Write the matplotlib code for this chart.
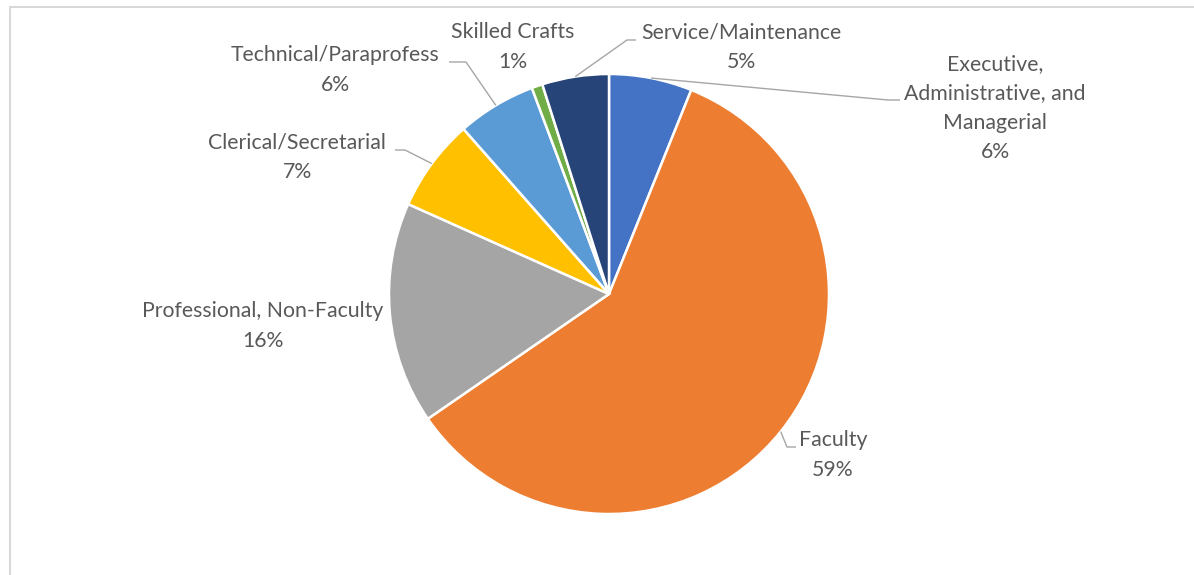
import numpy as np
import matplotlib
matplotlib.use("Agg")
import matplotlib.pyplot as plt
from matplotlib.patches import Rectangle

plt.rcParams["font.family"] = ["Lato", "DejaVu Sans"]

# Staff headcount share by job category
categories = [
    "Executive,\nAdministrative, and\nManagerial",
    "Faculty",
    "Professional, Non-Faculty",
    "Clerical/Secretarial",
    "Technical/Paraprofess",
    "Skilled Crafts",
    "Service/Maintenance",
]
shares = [6.1, 59.3, 16.3, 6.8, 5.8, 0.8, 4.9]
colors = ["#4472C4", "#ED7D31", "#A5A5A5", "#FFC000", "#5B9BD5", "#70AD47", "#264478"]

W, H = 1194, 575
fig = plt.figure(figsize=(W / 100, H / 100), dpi=100)
ax = fig.add_axes([0, 0, 1, 1])

# chart-area border (runs off the right and bottom edges)
fig.patches.append(Rectangle((9.5 / W, -0.05), 1.2, 1 - 7 / H + 0.05,
                             transform=fig.transFigure, fill=False,
                             edgecolor="#D9D9D9", linewidth=1.5))

cx, cy, r = 609, H - 294, 220
wedges, _ = ax.pie(shares, colors=colors, startangle=90, counterclock=False,
                   center=(cx, cy), radius=r, frame=True,
                   wedgeprops=dict(edgecolor="white", linewidth=1.8))
ax.set_xlim(0, W)
ax.set_ylim(0, H)
ax.set_aspect("equal")
ax.axis("off")

# label centres and leader-line elbows, in pixel coords from the top
label_pos = [(995, 108), (833, 455), (263, 326), (297, 157),
             (335, 70), (513, 47), (741, 47)]
elbows = [
    [(888, 100), (900, 100)],
    [(787, 447), (796, 447)],
    None,
    [(405, 150), (395, 150)],
    [(466, 62), (449, 62)],
    None,
    [(627, 40), (636, 40)],
]

for w, name, val, (lx, ly), elb in zip(wedges, categories, shares, label_pos, elbows):
    ax.text(lx, H - ly, f"{name}\n{round(val)}%", ha="center", va="center",
            multialignment="center", fontsize=15.3, color="#595959",
            linespacing=1.6)
    if elb is None:
        continue
    mid = np.deg2rad((w.theta1 + w.theta2) / 2)
    px = cx + r * np.cos(mid)
    py = cy + r * np.sin(mid)
    xs = [px] + [p[0] for p in elb]
    ys = [py] + [H - p[1] for p in elb]
    ax.plot(xs, ys, color="#A6A6A6", linewidth=1.0, solid_capstyle="butt")

fig.savefig("out.png", dpi=100, facecolor="white")
